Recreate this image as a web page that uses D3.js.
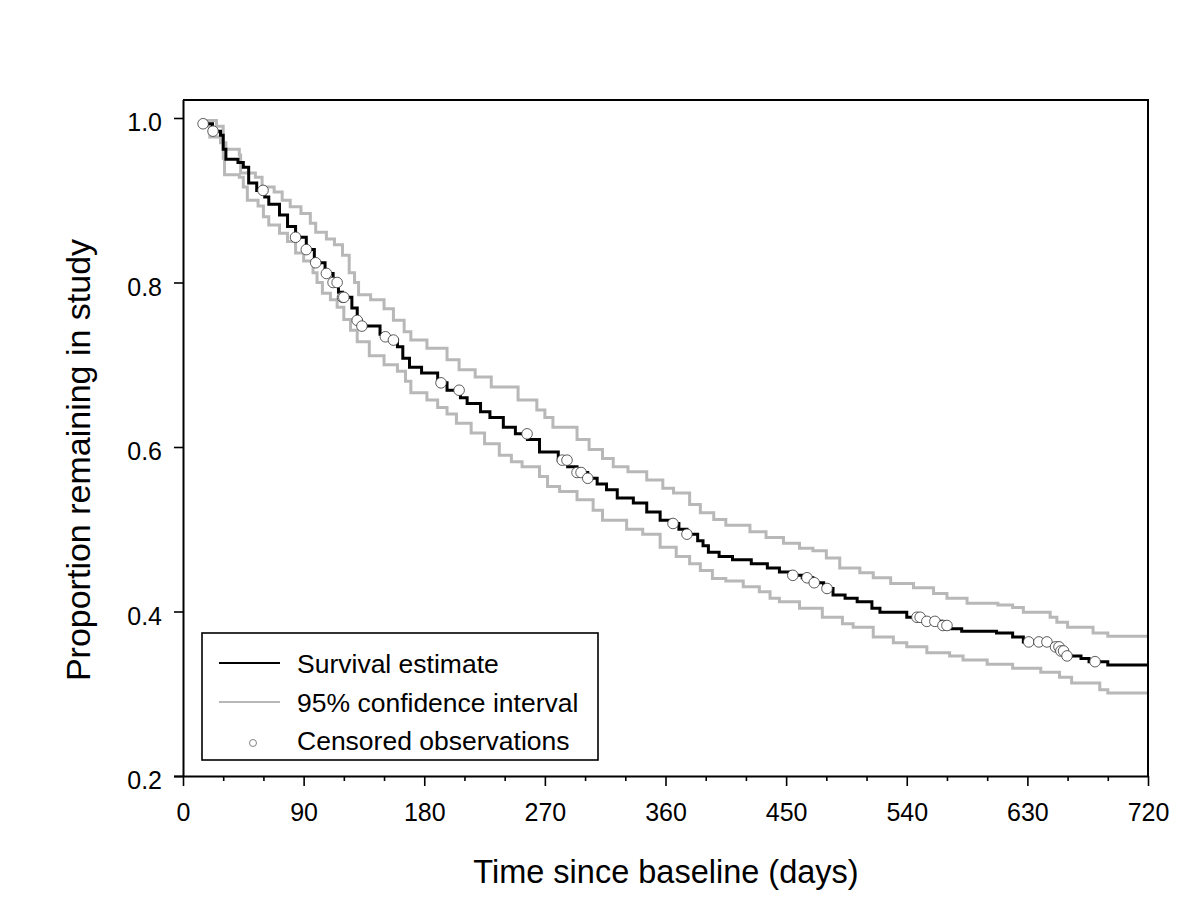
<!DOCTYPE html>
<html><head><meta charset="utf-8">
<script src="https://cdn.jsdelivr.net/npm/d3@7"></script>
<style>body{margin:0;background:#fff}svg{display:block}text{font-family:"Liberation Sans",Arial,sans-serif;fill:#000}</style>
</head><body>
<svg id="c" width="1200" height="909"></svg>
<script>
// Kaplan–Meier survival estimate: [day, proportion]
const survival = [[15,0.993],[22,0.984],[28,0.979],[30,0.962],[32,0.950],[41,0.946],[45,0.940],[49,0.921],[55,0.912],[61,0.904],[64,0.895],[72,0.882],[78,0.868],[84,0.855],[92,0.840],[98,0.824],[106,0.811],[112,0.800],[116,0.788],[119,0.782],[126,0.769],[130,0.754],[133,0.747],[147,0.737],[151,0.734],[157,0.730],[160,0.722],[164,0.708],[169,0.697],[178,0.690],[190,0.678],[197,0.669],[207,0.660],[212,0.653],[222,0.643],[229,0.636],[239,0.624],[248,0.616],[257,0.609],[266,0.594],[280,0.584],[287,0.576],[294,0.569],[302,0.562],[309,0.555],[316,0.548],[324,0.538],[336,0.532],[346,0.521],[356,0.511],[363,0.507],[370,0.500],[376,0.494],[384,0.486],[388,0.480],[392,0.472],[400,0.467],[410,0.463],[424,0.458],[436,0.453],[445,0.448],[455,0.444],[462,0.441],[470,0.435],[478,0.428],[485,0.420],[494,0.416],[503,0.412],[514,0.404],[520,0.399],[540,0.393],[552,0.388],[566,0.383],[572,0.379],[581,0.376],[607,0.374],[619,0.369],[627,0.363],[645,0.361],[651,0.357],[655,0.352],[658,0.346],[670,0.343],[676,0.339],[690,0.335],[720,0.335]];
// Upper 95% confidence bound
const upperCI = [[15,0.997],[25,0.990],[30,0.970],[32,0.962],[42,0.955],[43,0.933],[54,0.928],[59,0.916],[68,0.910],[74,0.900],[80,0.892],[88,0.884],[95,0.872],[99,0.861],[107,0.853],[113,0.846],[119,0.833],[124,0.812],[128,0.800],[131,0.785],[140,0.779],[150,0.768],[157,0.754],[165,0.740],[170,0.730],[182,0.720],[197,0.706],[206,0.694],[218,0.685],[230,0.673],[250,0.657],[264,0.645],[270,0.636],[276,0.624],[294,0.609],[303,0.597],[313,0.586],[321,0.576],[332,0.570],[346,0.560],[358,0.550],[366,0.544],[378,0.530],[386,0.520],[396,0.512],[405,0.505],[423,0.497],[435,0.490],[448,0.483],[460,0.477],[470,0.474],[480,0.465],[490,0.453],[505,0.447],[515,0.441],[528,0.434],[545,0.429],[560,0.422],[570,0.416],[585,0.410],[608,0.408],[619,0.405],[627,0.399],[647,0.393],[652,0.387],[660,0.381],[679,0.374],[690,0.370],[720,0.370]];
// Lower 95% confidence bound
const lowerCI = [[15,0.990],[20,0.977],[28,0.970],[30,0.951],[31,0.931],[42,0.928],[45,0.916],[48,0.900],[56,0.893],[60,0.880],[64,0.870],[72,0.860],[78,0.850],[84,0.836],[90,0.826],[97,0.812],[100,0.800],[104,0.787],[110,0.779],[115,0.770],[120,0.755],[125,0.742],[130,0.728],[139,0.711],[150,0.700],[160,0.692],[166,0.680],[170,0.666],[182,0.657],[190,0.648],[197,0.640],[204,0.629],[215,0.617],[225,0.604],[236,0.590],[245,0.582],[253,0.576],[266,0.564],[272,0.552],[281,0.546],[294,0.536],[306,0.523],[313,0.511],[331,0.500],[343,0.494],[356,0.478],[368,0.467],[378,0.458],[386,0.450],[395,0.440],[405,0.437],[418,0.430],[430,0.424],[438,0.416],[445,0.412],[460,0.404],[477,0.393],[492,0.385],[500,0.381],[515,0.369],[530,0.362],[540,0.357],[555,0.350],[572,0.346],[582,0.341],[600,0.336],[619,0.331],[640,0.326],[654,0.320],[663,0.313],[684,0.305],[690,0.301],[720,0.301]];
// Censoring times (days)
const censoredDays = [15,22.4,59.7,84,92,99,107,112,115,119,120,130,133.5,151,157,192.5,206,256.7,283,286.5,294,297,302,365.6,376,455,465.6,471,480.5,547.6,550,555,561,567,570,631,638.6,644.6,651,653.6,655,657,659.6,680.5];

const xTicks = [0,90,180,270,360,450,540,630,720];
const xMinorTicks = d3.range(0,721,30);
const yTicks = [0.2,0.4,0.6,0.8,1.0];
const legendItems = ["Survival estimate","95% confidence interval","Censored observations"];
const xTitle = "Time since baseline (days)";
const yTitle = "Proportion remaining in study";

const L=183,R=1148,T=100,B=776;
const svg = d3.select("#c");
const x = d3.scaleLinear().domain([0,720]).range([L,R]);
const y = d3.scaleLinear().domain([0.2,1.0]).range([B,118]);

function survAt(t){
  let v = survival[0][1];
  for(const [d,s] of survival){ if(d<=t) v=s; else break; }
  return v;
}

const line = d3.line().x(d=>x(d[0])).y(d=>y(d[1])).curve(d3.curveStepAfter);

svg.append("path").datum(upperCI).attr("d",line).attr("fill","none").attr("stroke","#b8b8b8").attr("stroke-width",3);
svg.append("path").datum(lowerCI).attr("d",line).attr("fill","none").attr("stroke","#b8b8b8").attr("stroke-width",3);
svg.append("path").datum(survival).attr("d",line).attr("fill","none").attr("stroke","#000").attr("stroke-width",3);

svg.append("g").selectAll("circle").data(censoredDays).join("circle")
  .attr("cx",d=>x(d)).attr("cy",d=>y(survAt(d))).attr("r",5.3)
  .attr("fill","#fff").attr("stroke","#333").attr("stroke-width",0.8);

// frame
svg.append("path").attr("d",`M${L},${T}H${R}V${B}`).attr("fill","none").attr("stroke","#000").attr("stroke-width",2);

// axes
const gx = svg.append("g").attr("transform",`translate(0,${B})`)
  .call(d3.axisBottom(x).tickValues(xTicks).tickSize(10).tickPadding(17).tickFormat(d3.format("d")));
const gxm = svg.append("g").attr("transform",`translate(0,${B})`)
  .call(d3.axisBottom(x).tickValues(xMinorTicks.filter(v=>v%90!==0)).tickSize(5).tickFormat(""));
gxm.select(".domain").remove();
const gy = svg.append("g").attr("transform",`translate(${L},0)`)
  .call(d3.axisLeft(y).tickValues(yTicks).tickSize(9).tickPadding(12).tickFormat(d3.format(".1f")));
[gx,gy].forEach(g=>{
  g.select(".domain").attr("stroke-width",2).attr("d", g===gx?`M${L-9},0.5H${R}`:`M0.5,${B}V${T}`);
  g.selectAll(".tick line").attr("stroke-width",1.6);
  g.selectAll("text").attr("font-size",25).attr("font-family","Liberation Sans, Arial, sans-serif");
});
gxm.selectAll(".tick line").attr("stroke-width",1.6);
gy.selectAll("text").attr("dy","0.5em");

// titles
svg.append("text").attr("x",666).attr("y",883).attr("text-anchor","middle").attr("font-size",32.5).text(xTitle);
svg.append("text").attr("transform",`translate(90,460) rotate(-90)`).attr("text-anchor","middle").attr("font-size",34).text(yTitle);

// legend
const lg = svg.append("g");
lg.append("rect").attr("x",202).attr("y",633).attr("width",396).attr("height",127).attr("fill","#fff").attr("stroke","#000").attr("stroke-width",1.6);
const rows=[663,702,740];
lg.append("line").attr("x1",219).attr("x2",280).attr("y1",rows[0]).attr("y2",rows[0]).attr("stroke","#000").attr("stroke-width",2);
lg.append("line").attr("x1",219).attr("x2",280).attr("y1",rows[1]).attr("y2",rows[1]).attr("stroke","#b8b8b8").attr("stroke-width",2);
lg.append("circle").attr("cx",253).attr("cy",rows[2]+3).attr("r",3.5).attr("fill","#fff").attr("stroke","#666").attr("stroke-width",0.8);
lg.selectAll("text.lt").data(legendItems).join("text").attr("class","lt")
  .attr("x",297).attr("y",(d,i)=>rows[i]).attr("dy","0.36em").attr("font-size",26.5).text(d=>d);
</script>
</body></html>
